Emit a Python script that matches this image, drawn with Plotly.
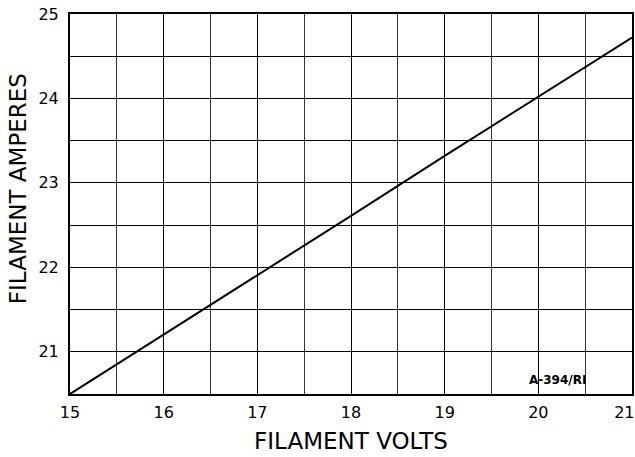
import plotly.graph_objects as go

volts = [15, 16, 17, 18, 19, 20, 21]
amperes = [20.5, 21.2, 21.91, 22.61, 23.32, 24.02, 24.72]
x_ticks = [15, 16, 17, 18, 19, 20, 21]
y_ticks = [21, 22, 23, 24, 25]
x_title = "FILAMENT VOLTS"
y_title = "FILAMENT AMPERES"
note = "A-394/RI"

FONT = "DejaVu Sans"

# last x label padded with no-break spaces so it stays inside the window edge
x_ticktext = [str(v) for v in x_ticks]
x_ticktext[-1] = x_ticktext[-1] + "\u00a0\u00a0\u00a0"

fig = go.Figure()
fig.add_trace(go.Scatter(x=volts, y=amperes, mode="lines",
                         line=dict(color="black", width=2), showlegend=False,
                         hoverinfo="skip"))

fig.add_annotation(x=20.2, y=20.67, text="<b>" + note + "</b>", showarrow=False,
                   font=dict(family=FONT, size=12, color="black"))

fig.add_annotation(xref="paper", yref="paper", x=0, y=0.539, xshift=-52,
                   xanchor="center", yanchor="middle", textangle=-90,
                   text=y_title, showarrow=False,
                   font=dict(family=FONT, size=23, color="black"))

fig.update_xaxes(range=[15, 21], tickvals=x_ticks, ticktext=x_ticktext,
                 showgrid=True, gridcolor="black", gridwidth=1.2,
                 minor=dict(dtick=0.5, showgrid=True, gridcolor="#333", gridwidth=1),
                 showline=True, linecolor="black", linewidth=2, mirror=True,
                 ticks="", zeroline=False, ticklabelstandoff=3,
                 ticklabeloverflow="allow", automargin=False,
                 tickfont=dict(family=FONT, size=16, color="black"),
                 title=dict(text=x_title, font=dict(family=FONT, size=23, color="black"),
                            standoff=12))
fig.update_yaxes(range=[20.5, 25], tickvals=y_ticks,
                 ticktext=[str(v) for v in y_ticks],
                 showgrid=True, gridcolor="black", gridwidth=1.2,
                 minor=dict(dtick=0.5, showgrid=True, gridcolor="black", gridwidth=1.2),
                 showline=True, linecolor="black", linewidth=2, mirror=True,
                 ticks="", zeroline=False, ticklabelstandoff=6,
                 ticklabeloverflow="allow", automargin=False,
                 tickfont=dict(family=FONT, size=16, color="black"))

fig.update_layout(width=635, height=457,
                  margin=dict(l=70, r=3, t=14, b=63, autoexpand=False),
                  plot_bgcolor="white", paper_bgcolor="white")

# remove the page's default 8px body margin so the figure fills the window exactly
fig.write_html("out.html", config={"displayModeBar": False},
               post_script="document.body.style.margin='0';document.body.style.overflow='hidden';")
